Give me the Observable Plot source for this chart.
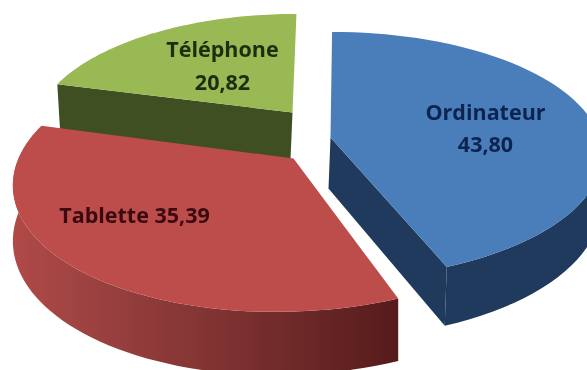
<!DOCTYPE html>
<html><head><meta charset="utf-8">
<script src="https://cdn.jsdelivr.net/npm/d3@7"></script>
<script src="https://cdn.jsdelivr.net/npm/@observablehq/plot@0.6"></script>
<style>html,body{margin:0;padding:0;background:#fff}svg{display:block;filter:blur(.45px)}</style>
</head><body><div id="chart"></div>
<script>
const categories = ["Ordinateur", "Tablette", "Téléphone"];
const values = [43.80, 35.39, 20.82];
const valueLabels = ["43,80", "35,39", "20,82"];

const topColors = ["#4a7ebb", "#bd4d4a", "#98b954"];
const sideColors = ["#1f3a5c", "url(#redSide)", "#3f4f22"];
const textColors = ["#0d2350", "#3a0a10", "#1d2d10"];

// 3D view of each exploded slice; face: which radial side is visible
const views = [
  {cx: 330, cy: 137, rx: 269, ry: 121, shear: -0.015, depth: 51, dx: -2, scale: 1, face: "e"},
  {cx: 293, cy: 158, rx: 275, ry: 131, shear: -0.115, depth: 54, dx: 0, scale: 1, face: ""},
  {cx: 292, cy: 112, rx: 254, ry: 113, shear: -0.04, depth: 47, dx: -2, scale: 0.98, face: "s"}
];
const labels = [
  {text: categories[0], x: 485, y: 113, i: 0},
  {text: valueLabels[0], x: 485, y: 145, i: 0},
  {text: categories[1] + " " + valueLabels[1], x: 134, y: 216, i: 1},
  {text: categories[2], x: 222, y: 50, i: 2},
  {text: valueLabels[2], x: 222, y: 83, i: 2}
];

const persp = 6.85;
function project(v, deg, r, low) {
  const t = deg * Math.PI / 180, X = r * Math.sin(t), Z = r * Math.cos(t);
  const s = persp / (persp + Z);
  const yy = -v.ry * Z * s;
  let x = v.rx * X * s + v.shear * yy, y = v.cy + yy;
  if (low) { x = x * v.scale + v.dx; y += v.depth * s; }
  return {x: v.cx + x, y};
}
const total = d3.sum(values);
let acc = 0;
const tops = [], rims = [], faces = [];
values.forEach((val, i) => {
  const a0 = acc / total * 360, a1 = (acc + val) / total * 360; acc += val;
  const v = views[i];
  const angles = d3.range(61).map(k => a0 + (a1 - a0) * k / 60);
  const top = [project(v, 0, 0, false), ...angles.map(a => project(v, a, 1, false))];
  tops.push(...top.map(p => ({...p, i})));
  const front = angles.filter(a => Math.cos(a * Math.PI / 180) < 0.2);
  const rim = [...front.map(a => project(v, a, 1, false)), ...front.slice().reverse().map(a => project(v, a, 1, true))];
  rims.push(...rim.map(p => ({...p, i})));
  if (v.face) {
    const a = v.face === "s" ? a0 : a1;
    const face = [project(v, 0, 0, false), project(v, 0, 0, true), project(v, a, 1, true), project(v, a, 1, false)];
    faces.push(...face.map(p => ({...p, i})));
  }
});
const order = [2, 1, 0];
const layers = order.flatMap(i => [
  Plot.line(faces.filter(d => d.i === i), {x: "x", y: "y", fill: sideColors[i], stroke: "none"}),
  Plot.line(rims.filter(d => d.i === i), {x: "x", y: "y", fill: sideColors[i], stroke: "none"}),
  Plot.line(tops.filter(d => d.i === i), {x: "x", y: "y", fill: topColors[i], stroke: "none"})
]);
const defs = () => {
  const d = d3.create("svg:defs");
  const g = d.append("linearGradient").attr("id", "redSide").attr("gradientUnits", "userSpaceOnUse")
    .attr("x1", 10).attr("x2", 397).attr("y1", 0).attr("y2", 0);
  [[0, "#b04a48"], [.25, "#98403f"], [.55, "#7e3231"], [.8, "#672625"], [1, "#571b1b"]]
    .forEach(([o, c]) => g.append("stop").attr("offset", o).attr("stop-color", c));
  return d.node();
};
const chart = Plot.plot({
  width: 587, height: 370,
  margin: 0,
  x: {domain: [0, 587], range: [0, 587], axis: null},
  y: {domain: [0, 370], range: [0, 370], axis: null},
  style: {background: "#fff"},
  marks: [
    defs,
    ...layers,
    Plot.text(labels, {x: "x", y: "y", text: "text", fill: d => textColors[d.i],
      fontFamily: "'Open Sans', sans-serif", fontWeight: 700, fontSize: 21.5})
  ]
});
document.getElementById("chart").append(chart);
</script></body></html>
